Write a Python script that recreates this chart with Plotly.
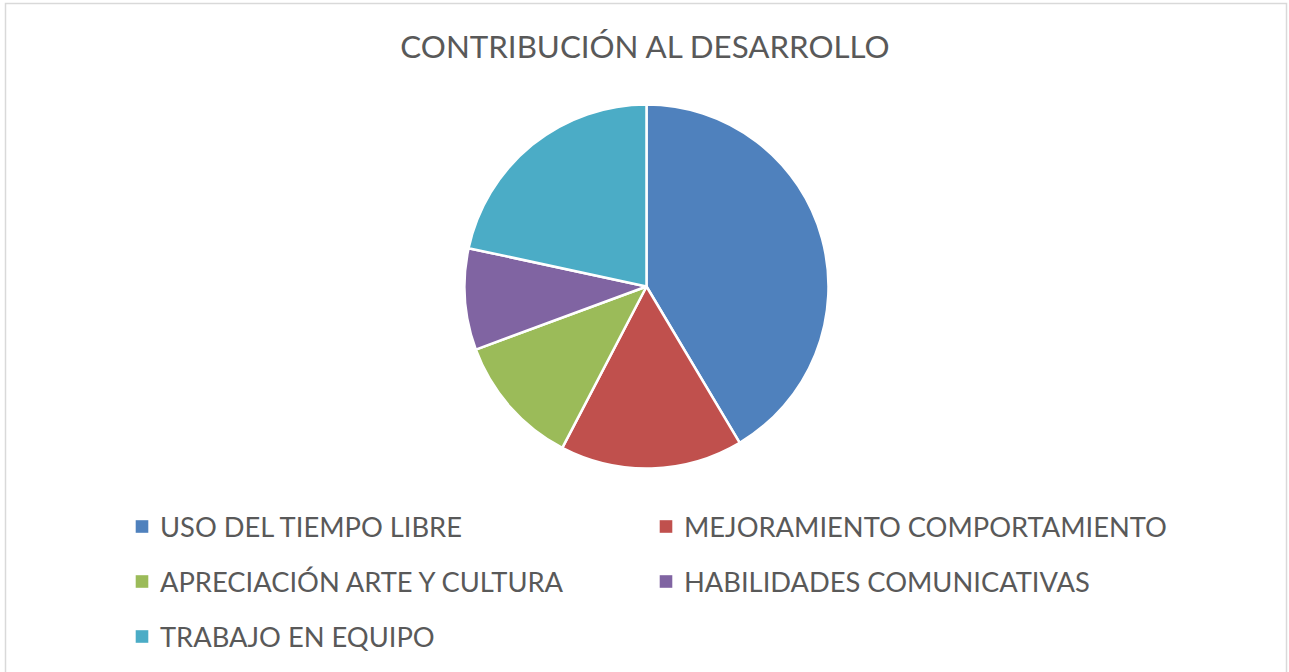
import plotly.graph_objects as go

W, H = 1289, 672

title_text = "CONTRIBUCIÓN AL DESARROLLO"
labels = [
    "USO DEL TIEMPO LIBRE",
    "MEJORAMIENTO COMPORTAMIENTO",
    "APRECIACIÓN ARTE Y CULTURA",
    "HABILIDADES COMUNICATIVAS",
    "TRABAJO EN EQUIPO",
]
values = [46, 18, 13, 10, 24]
colors = ["#4F81BD", "#C0504D", "#9BBB59", "#8064A2", "#4BACC6"]

FONT = "Lato"
TEXT_COLOR = "#595959"


def px_x(x):
    return x / W


def px_y(y):
    return 1 - y / H


fig = go.Figure()

# pie: centre (646.5, 286.5) px, radius 182 px
cx, cy, r = 646.5, 286.5, 182
fig.add_trace(go.Pie(
    labels=labels,
    values=values,
    sort=False,
    direction="clockwise",
    rotation=0,
    marker=dict(colors=colors, line=dict(color="white", width=2.5)),
    textinfo="none",
    showlegend=False,
    domain=dict(x=[px_x(cx - r), px_x(cx + r)], y=[px_y(cy + r), px_y(cy - r)]),
))

shapes = []
annotations = []

# chart frame
shapes.append(dict(type="rect", xref="paper", yref="paper",
                   x0=px_x(5.5), x1=px_x(1286.5), y0=px_y(700), y1=px_y(3.5),
                   line=dict(color="#D9D9D9", width=1.5), fillcolor="rgba(0,0,0,0)", layer="below"))

# legend laid out in two columns, rows 55 px apart
col_x = [142, 666]
row_y = [526.5, 581.5, 636.5]
sq = 6.3
for i, (lab, col) in enumerate(zip(labels, colors)):
    row, c = divmod(i, 2)
    x0, y0 = col_x[c], row_y[row]
    shapes.append(dict(type="rect", xref="paper", yref="paper",
                       x0=px_x(x0 - sq), x1=px_x(x0 + sq),
                       y0=px_y(y0 + sq), y1=px_y(y0 - sq),
                       line=dict(width=0), fillcolor=col))
    annotations.append(dict(text=lab, xref="paper", yref="paper",
                            x=px_x(x0 + 16), y=px_y(y0), xanchor="left", yanchor="middle",
                            showarrow=False, font=dict(family=FONT, size=27.3, color=TEXT_COLOR)))

fig.update_layout(
    width=W, height=H,
    margin=dict(l=0, r=0, t=0, b=0),
    paper_bgcolor="white",
    plot_bgcolor="white",
    title=dict(text=title_text, x=px_x(645), xanchor="center",
               y=px_y(47), yanchor="middle",
               font=dict(family=FONT, size=31.3, color=TEXT_COLOR)),
    shapes=shapes,
    annotations=annotations,
)

fig.write_html("out.html")
